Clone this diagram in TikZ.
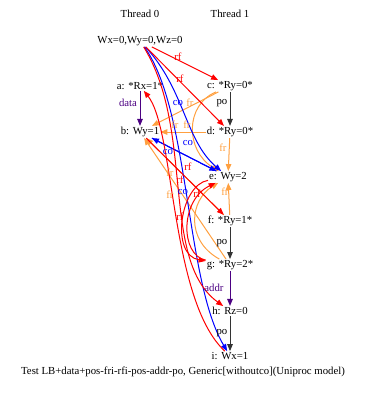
\documentclass[tikz,border=0pt]{standalone}
\usepackage{fontspec}
\setmainfont{Liberation Serif}
\usetikzlibrary{arrows.meta}
\definecolor{frcol}{HTML}{FFA040}
\definecolor{depcol}{HTML}{4B0082}
\tikzset{
  ev/.style={inner sep=1bp,font=\fontsize{10.8}{12}\selectfont},
  lbl/.style={inner sep=0pt,font=\fontsize{10.8}{12}\selectfont},
  arr/.style={line width=1bp,-{Triangle[length=7bp,width=5.5bp]}},
  rfe/.style={arr,red},
  coe/.style={arr,blue},
  fre/.style={arr,frcol},
  poe/.style={arr,black!80},
  depe/.style={arr,depcol}
}
\begin{document}
\begin{tikzpicture}[x=1bp,y=-1bp]
                \useasboundingbox (0,0) rectangle (370,394);
                % threads and events
                \node[ev] (th0) at (140,14) {Thread 0};
                \node[ev] (th1) at (230,14) {Thread 1};
                \node[ev] (init) at (140,41) {Wx=0,Wy=0,Wz=0};
                \node[ev] (a) at (140,86) {a: *Rx=1*};
                \node[ev] (b) at (140,132) {b: Wy=1};
                \node[ev] (c) at (230,86) {c: *Ry=0*};
                \node[ev] (d) at (230,132) {d: *Ry=0*};
                \node[ev] (e) at (228,177) {e: Wy=2};
                \node[ev] (f) at (230,221) {f: *Ry=1*};
                \node[ev] (g) at (230,265) {g: *Ry=2*};
                \node[ev] (h) at (230,311) {h: Rz=0};
                \node[ev] (i) at (230,356) {i: Wx=1};
                \node[ev] (cap) at (183,372) {Test LB+data+pos-fri-rfi-pos-addr-po, Generic[withoutco](Uniproc model)};
                % program order and dependencies
                \draw[depe] (a) -- (b);
                \draw[poe] (c) -- (d);
                \draw[poe] (f) -- (g);
                \draw[depe] (g) -- (h);
                \draw[poe] (h) -- (i);
                % fr
                \draw[fre] (c) -- (b);
                \draw[fre] (d) -- (b);
                \draw[fre] (c) .. controls (185,105) and (185,150) .. (e);
                \draw[fre] (d) -- (e);
                \draw[fre] (f) -- (e);
                \draw[fre] (f) -- (b);
                \draw[fre] (g) -- (b);
                \draw[fre] (g) .. controls (185,240) and (190,200) .. (e);
                % co
                \draw[coe] (init) .. controls (190,110) and (185,280) .. (i);
                \draw[coe] (init) .. controls (185,90) and (185,140) .. (e);
                \draw[coe] (b) -- (e);
                \draw[coe] (e) -- (b);
                % rf
                \draw[rfe] (init) -- (c);
                \draw[rfe] (init) -- (d);
                \draw[rfe] (b) -- (f);
                \draw[rfe] (i) .. controls (170,300) and (175,130) .. (a);
                \draw[rfe] (init) .. controls (195,130) and (160,260) .. (h);
                \draw[rfe] (e) .. controls (180,185) and (170,255) .. (g);
                \draw[rfe] (g) .. controls (180,255) and (180,200) .. (e);
                % labels
                \node[lbl,depcol] (ldata) at (128,103) {data};
                \node[lbl] (lpo1) at (222,103) {po};
                \node[lbl] (lpo2) at (222,243) {po};
                \node[lbl,depcol] (laddr) at (214,288) {addr};
                \node[lbl] (lpo3) at (222,333) {po};
                \node[lbl,red] (lrf1) at (178,57) {rf};
                \node[lbl,red] (lrf2) at (180,79) {rf};
                \node[lbl,red] (lrf3) at (188,167) {rf};
                \node[lbl,red] (lrf4) at (180,180) {rf};
                \node[lbl,red] (lrf5) at (197,194) {rf};
                \node[lbl,red] (lrf6) at (180,217) {rf};
                \node[lbl,blue] (lco1) at (178,103) {co};
                \node[lbl,blue] (lco2) at (188,143) {co};
                \node[lbl,blue] (lco3) at (168,152) {co};
                \node[lbl,blue] (lco4) at (183,192) {co};
                \node[lbl,frcol] (lfr1) at (190,103) {fr};
                \node[lbl,frcol] (lfr2) at (175,125) {fr};
                \node[lbl,frcol] (lfr3) at (187,125) {fr};
                \node[lbl,frcol] (lfr4) at (223,148) {fr};
                \node[lbl,frcol] (lfr5) at (225,192) {fr};
                \node[lbl,frcol] (lfr6) at (170,173) {fr};
                \node[lbl,frcol] (lfr7) at (170,195) {fr};
            \end{tikzpicture}
\end{document}
